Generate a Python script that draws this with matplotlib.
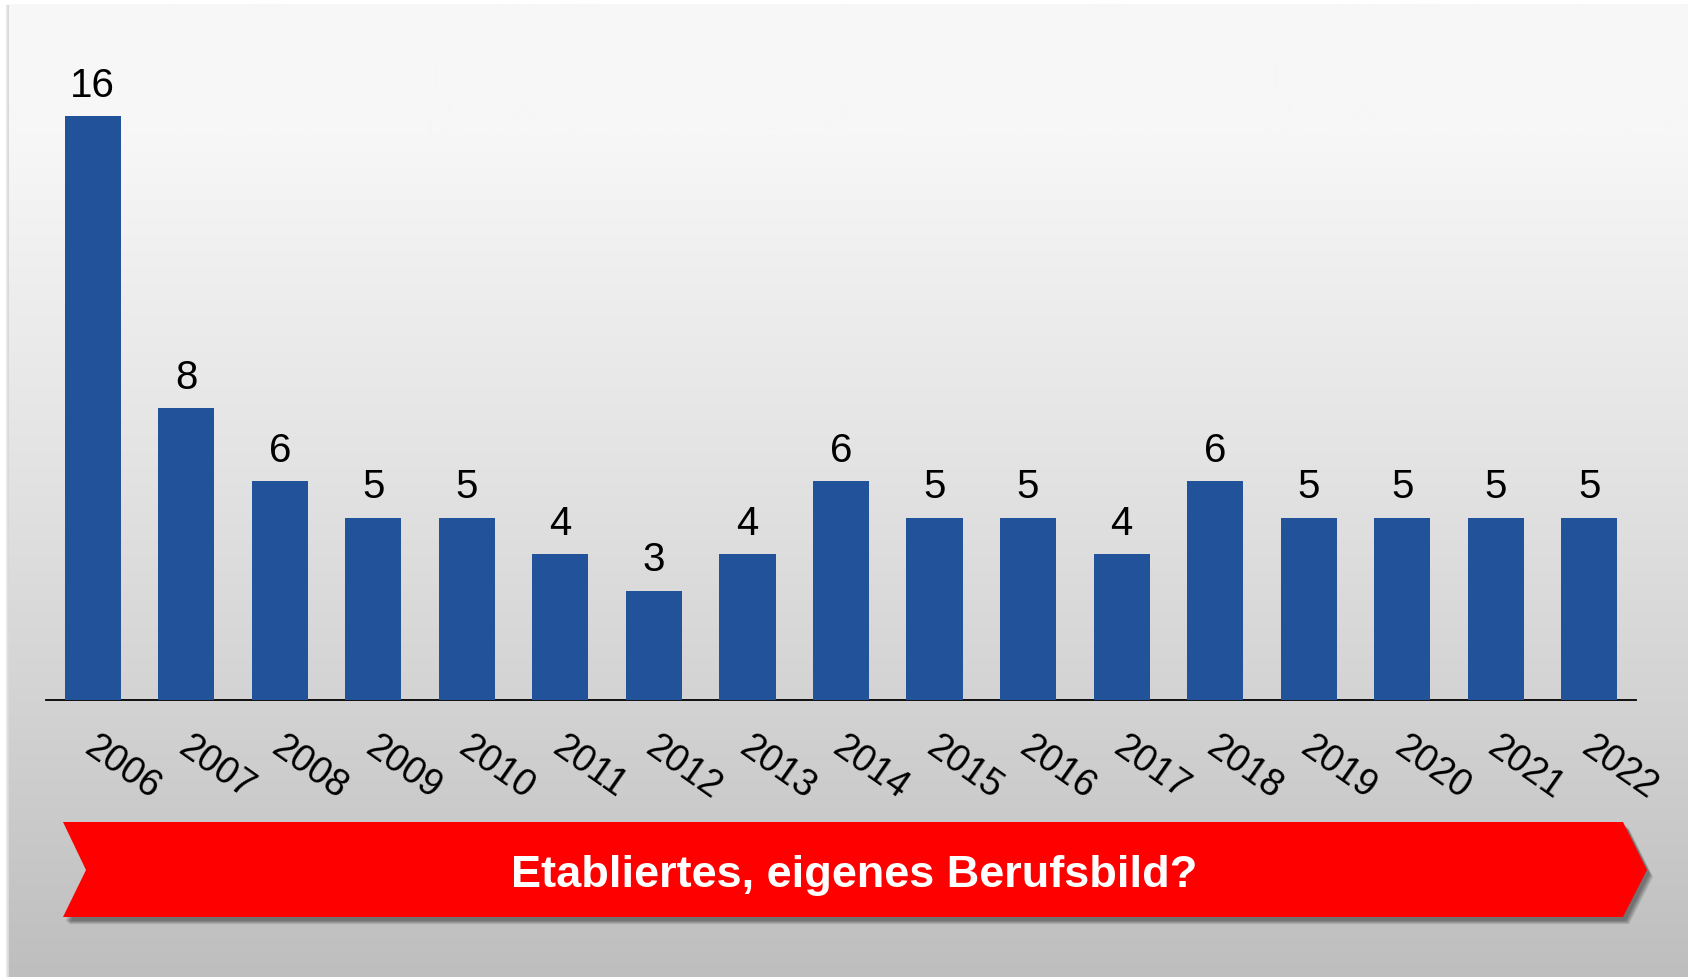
import numpy as np
import matplotlib
matplotlib.use("Agg")
import matplotlib.pyplot as plt
import matplotlib.transforms as mtransforms
from matplotlib.patches import Polygon

plt.rcParams['font.family'] = ['Liberation Sans', 'DejaVu Sans']

# Daten
years = ['2006', '2007', '2008', '2009', '2010', '2011', '2012', '2013', '2014',
         '2015', '2016', '2017', '2018', '2019', '2020', '2021', '2022']
counts = [16, 8, 6, 5, 5, 4, 3, 4, 6, 5, 5, 4, 6, 5, 5, 5, 5]
banner_text = 'Etabliertes, eigenes Berufsbild?'

BAR_COLOR = '#21529A'
W, H = 1688, 977


def px(x, y):
    """Bildpixel (oben links = 0,0) -> Figure-Koordinaten"""
    return x / W, 1 - y / H


fig = plt.figure(figsize=(W / 100, H / 100), dpi=100)
fig.patch.set_facecolor('white')

# Hintergrund mit Verlauf
bg = fig.add_axes([0, 0, 1, 1], zorder=0)
bg.set_xlim(0, W)
bg.set_ylim(H, 0)
bg.axis('off')
ys = np.array([0, 130, 450, 700, 977])
vals = np.array([247, 247, 228, 211, 190]) / 255
grad = np.interp(np.arange(H), ys, vals)[:, None] * np.ones((1, 2))
bg.imshow(np.dstack([grad, grad, grad]), extent=[9, W, H, 4], aspect='auto',
          interpolation='bilinear', zorder=1)
for i, a in enumerate([0.05, 0.09, 0.13]):
    bg.plot([6 + i, 6 + i], [5, H], color='black', alpha=a, lw=1, zorder=0.5)

# Balkendiagramm
ax = fig.add_axes([46 / W, (H - 700) / H, 1590 / W, 657 / H], zorder=2)
ax.patch.set_alpha(0)
x = np.arange(len(years))
bars = ax.bar(x, counts, width=0.6, color=BAR_COLOR, zorder=3)
ax.bar_label(bars, labels=[str(c) for c in counts], padding=8, fontsize=29, color='black')
ax.set_xlim(-0.5, len(years) - 0.5)
ax.set_ylim(0, 18)
for s in ['top', 'right', 'left']:
    ax.spines[s].set_visible(False)
ax.spines['bottom'].set_linewidth(1.3)
ax.spines['bottom'].set_color('black')
ax.set_yticks([])
ax.set_xticks(x)
ax.set_xticklabels(years, rotation=-35, ha='left', va='top', rotation_mode='anchor', fontsize=27)
ax.tick_params(axis='x', length=0, pad=21)
shift = mtransforms.ScaledTranslation(4 / 72, 0, fig.dpi_scale_trans)
for lbl in ax.get_xticklabels():
    lbl.set_transform(lbl.get_transform() + shift)

# roter Pfeil-Banner mit Schatten
pts = [(63, 822), (1623, 822), (1647, 870), (1623, 917), (63, 917), (86, 870)]
for k in range(7, 0, -1):
    sh = [px(a + 2 + k * 0.6, b + 3 + k * 0.6) for a, b in pts]
    fig.patches.append(Polygon(sh, closed=True, transform=fig.transFigure,
                               facecolor='black', edgecolor='none', alpha=0.07, zorder=3))
fig.patches.append(Polygon([px(a, b) for a, b in pts], closed=True, transform=fig.transFigure,
                           facecolor='#FF0000', edgecolor='none', zorder=4))
tx, ty = px(854, 887)
fig.text(tx, ty, banner_text, ha='center', va='baseline', fontsize=32.5,
         fontweight='bold', color='white', zorder=5)

fig.savefig('out.png', dpi=100, facecolor='white')
plt.close(fig)
